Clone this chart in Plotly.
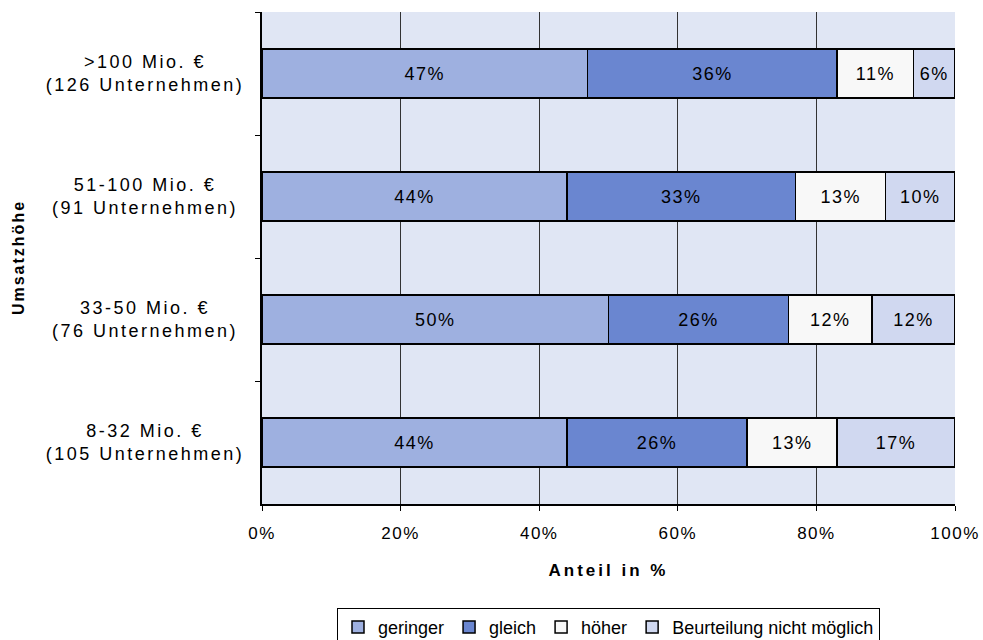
import plotly.graph_objects as go

# Data (top-to-bottom order as shown)
categories = [
    ">100 Mio. €<br>(126 Unternehmen)",
    "51-100 Mio. €<br>(91 Unternehmen)",
    "33-50 Mio. €<br>(76 Unternehmen)",
    "8-32 Mio. €<br>(105 Unternehmen)",
]
series_names = ["geringer", "gleich", "höher", "Beurteilung nicht möglich"]
geringer = [47, 44, 50, 44]
gleich = [36, 33, 26, 26]
hoeher = [11, 13, 12, 13]
nicht_moeglich = [6, 10, 12, 17]
x_tick_vals = [0, 20, 40, 60, 80, 100]
x_tick_text = ["0%", "20%", "40%", "60%", "80%", "100%"]

series_values = [geringer, gleich, hoeher, nicht_moeglich]
colors = ["#9eb0e0", "#6a86d0", "#f8f8f8", "#d0d8f0"]

FONT = "Arial, 'Liberation Sans', sans-serif"

fig = go.Figure()
for name, vals, col in zip(series_names, series_values, colors):
    fig.add_trace(go.Bar(
        y=categories, x=vals, name=name, orientation="h",
        marker=dict(color=col, line=dict(color="black", width=1.5)),
        width=0.4,
        texttemplate="%{x}%", textposition="inside", insidetextanchor="middle",
        textangle=0, textfont=dict(family=FONT, size=18, color="black"),
    ))

annotations = []
for c in categories:
    annotations.append(dict(
        x=-0.169, xref="paper", y=c, yref="y", text=c, showarrow=False,
        xanchor="center", yanchor="middle", align="center",
        font=dict(family=FONT, size=18, color="black"),
    ))
annotations.append(dict(
    x=-0.352, xref="paper", y=0.5, yref="paper", text="<b>Umsatzhöhe</b>",
    showarrow=False, textangle=-90, xanchor="center", yanchor="middle",
    font=dict(family=FONT, size=16, color="black"),
))

fig.update_layout(
    width=983, height=640,
    margin=dict(l=262, r=28, t=12, b=136, autoexpand=False),
    barmode="stack",
    plot_bgcolor="#e0e6f4",
    paper_bgcolor="white",
    font=dict(family=FONT, size=17, color="black"),
    xaxis=dict(
        range=[0, 100], tickvals=x_tick_vals, ticktext=x_tick_text,
        showgrid=True, gridcolor="#333333", gridwidth=1,
        showline=True, linecolor="black", linewidth=1.5,
        ticks="outside", ticklen=5, tickcolor="black",
        tickfont=dict(family=FONT, size=17), ticklabelstandoff=8,
        zeroline=False,
        title=dict(text="<b>Anteil in %</b>", font=dict(family=FONT, size=17), standoff=22),
    ),
    yaxis=dict(
        categoryorder="array", categoryarray=categories, autorange="reversed",
        showticklabels=False, showgrid=False,
        showline=True, linecolor="black", linewidth=1.5,
        ticks="outside", ticklen=5, tickcolor="black", tickson="boundaries",
    ),
    legend=dict(
        orientation="h", x=0.5, xanchor="center", y=-0.211, yanchor="top",
        bgcolor="white", bordercolor="black", borderwidth=1,
        font=dict(family=FONT, size=18), traceorder="normal",
    ),
    annotations=annotations,
    showlegend=True,
)

post = """
var gd = document.getElementById('{plot_id}');
function sp(sel, v){ gd.querySelectorAll(sel).forEach(function(t){ t.style.letterSpacing = v; }); }
sp('.annotation-text', '2.5px');
var anns = gd.querySelectorAll('.annotation-text');
if (anns.length) { anns[anns.length-1].style.letterSpacing = '2px'; }
sp('.xtick text', '1.5px');
sp('text.bartext', '1.5px');
sp('.xtitle', '3px');
"""

fig.write_html("out.html", post_script=post)
